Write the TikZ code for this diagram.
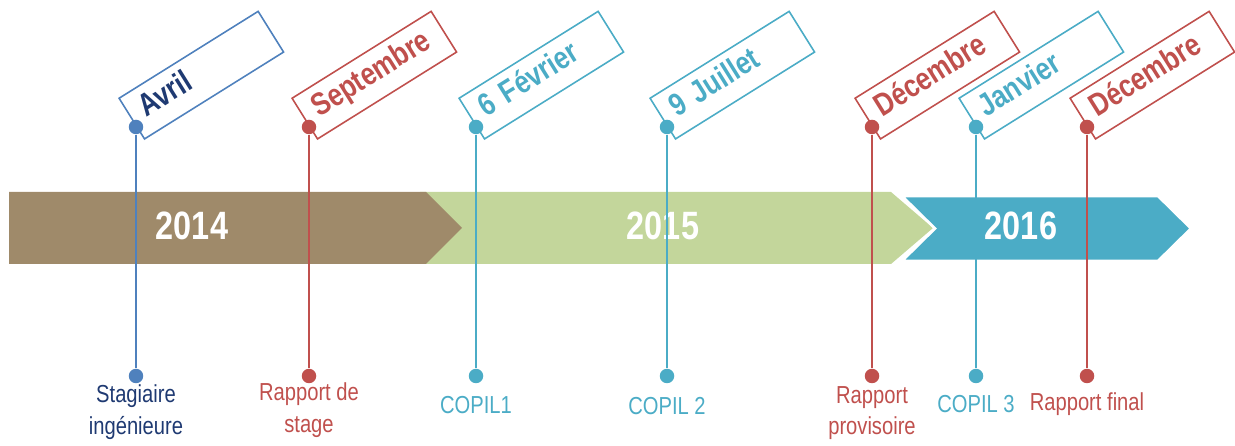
\documentclass[tikz,border=0pt]{standalone}
\usepackage{fontspec}
\setmainfont{Liberation Sans}
\newfontfamily\narrow[FakeStretch=0.82]{Liberation Sans}
\definecolor{ptblue}{HTML}{4F81BD}
\definecolor{navy}{HTML}{1F3A72}
\definecolor{ptred}{HTML}{C0504D}
\definecolor{ptteal}{HTML}{4BACC6}
\definecolor{brun}{HTML}{9F8A6A}
\definecolor{vert}{HTML}{C3D69B}
\begin{document}
\begin{tikzpicture}[x=0.02cm,y=0.02cm,
    jalon/.style={circle,fill=#1,inner sep=0pt,minimum size=0.29cm},
    datebox/.style={draw=#1,fill=white,line width=0.9pt,rotate=32,anchor=north west,
        minimum width=3.28cm,minimum height=0.96cm,inner xsep=0.26cm,inner ysep=0pt,
        text width=2.76cm,align=left,text height=0.44cm,text depth=0.17cm,
        font=\narrow\bfseries\fontsize{18}{18}\selectfont},
    annee/.style={text=white,font=\narrow\bfseries\fontsize{22.5}{24}\selectfont},
    etiquette/.style={align=center,inner sep=0pt,font=\narrow\fontsize{14}{18}\selectfont}]
    \useasboundingbox (0,0) rectangle (1235,446);

    % Frise des annees
    \fill[vert] (420,254) -- (891,254) -- (933,218) -- (891,182) -- (420,182) -- cycle;
    \fill[brun] (9,254) -- (426,254) -- (462,218) -- (426,182) -- (9,182) -- cycle;
    \filldraw[fill=ptteal,draw=white,line width=1.5pt]
        (902,250) -- (1158,250) -- (1191,217.5) -- (1158,185) -- (902,185) -- (935,217.5) -- cycle;
    \node[annee] (a2014) at (192,220) {2014};
    \node[annee] (a2015) at (663,220) {2015};
    \node[annee] (a2016) at (1021,220) {2016};

    % Jalons
    \foreach \x/\bord/\coul/\mois/\lab/\ly/\k in {
        136/ptblue/navy/Avril/{Stagiaire\\ingénieure}/34/1,
        309/ptred/ptred/Septembre/{Rapport de\\stage}/36/2,
        476/ptteal/ptteal/6 Février/COPIL1/41/3,
        667/ptteal/ptteal/9 Juillet/COPIL 2/40/4,
        872/ptred/ptred/Décembre/{Rapport\\provisoire}/33/5,
        976/ptteal/ptteal/Janvier/COPIL 3/42/6,
        1087/ptred/ptred/Décembre/Rapport final/42/7
        } {
        \node[datebox=\bord,text=\coul] (mois\k) at (\x-18,348) {\mois};
        \node[jalon=\bord] (haut\k) at (\x,319) {};
        \node[jalon=\bord] (bas\k) at (\x,70) {};
        \draw[\bord,line width=0.9pt] (haut\k) -- (bas\k);
        \node[etiquette,text=\coul] (lab\k) at (\x,\ly) {\lab};
    }
\end{tikzpicture}
\end{document}
